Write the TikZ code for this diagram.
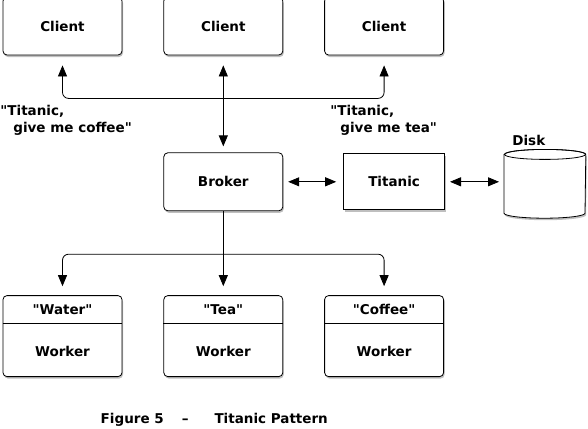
\documentclass[tikz,border=0pt]{standalone}
\usepackage{fontspec}
\setmainfont{DejaVu Sans}[Ligatures=TeXOff]
\usepackage{tikz}
\usetikzlibrary{positioning}
\usetikzlibrary{shadows}
\usetikzlibrary{arrows.meta}

\tikzset{
  diagram text/.style={font=\fontsize{13.5}{17}\selectfont\bfseries},
  shade box/.style={drop shadow={shadow xshift=1pt, shadow yshift=-2pt, fill=black, opacity=.25}},
  box/.style={diagram text, draw, fill=white, rounded corners=4pt, minimum width=119pt, minimum height=58pt, shade box},
  plain box/.style={diagram text, draw, fill=white, minimum width=101pt, minimum height=56pt, shade box},
  worker/.style={draw, fill=white, rounded corners=4pt, minimum width=119pt, minimum height=81pt, shade box},
  note/.style={diagram text, align=left, inner sep=0pt}
}

\begin{document}
\begin{tikzpicture}[x=1pt, y=-1pt, line width=0.8pt, >={Triangle[length=11pt,width=9pt]}]
            \useasboundingbox (0,0) rectangle (588,428);
            % clients
            \node[box] (client1) at (62.5,26) {Client};
            \node[box, right=41pt of client1] (client2) {Client};
            \node[box, right=41pt of client2] (client3) {Client};
            % broker, titanic and disk
            \node[box, below=97pt of client2] (broker) {Broker};
            \node[plain box, right=60pt of broker] (titanic) {Titanic};
            \node[minimum width=81pt, minimum height=68pt, inner sep=0pt, right=59pt of titanic, yshift=-2pt] (disk) {};
            \draw[fill=white, shade box] ([yshift=-5pt]disk.north west) -- ([yshift=5pt]disk.south west)
                arc[start angle=180, end angle=360, x radius=40.5pt, y radius=5pt]
                -- ([yshift=-5pt]disk.north east)
                arc[start angle=0, end angle=180, x radius=40.5pt, y radius=5pt] -- cycle;
            \draw ([yshift=-5pt]disk.north) ellipse [x radius=40.5pt, y radius=5pt];
            \node[diagram text, anchor=south west, inner sep=1pt] (disk label) at ([xshift=7pt, yshift=2pt]disk.north west) {Disk};
            % workers
            \node[worker, below=84pt of broker] (tea) {};
            \node[worker, left=41pt of tea] (water) {};
            \node[worker, right=41pt of tea] (coffee) {};
            \foreach \w/\name in {water/"Water", tea/"Tea", coffee/"Coffee"} {
                \draw ([yshift=-28pt]\w.north west) -- ([yshift=-28pt]\w.north east);
                \node[diagram text] (\w name) at ([yshift=-14pt]\w.north) {\name};
                \node[diagram text] (\w role) at ([yshift=-56pt]\w.north) {Worker};
            }
            % requests
            \node[note, anchor=north west] (coffee note) at (0,105) {"Titanic,\\\hspace{13pt}give me coffee"};
            \node[note, anchor=north west] (tea note) at (330,105) {"Titanic,\\\hspace{10pt}give me tea"};
            % connectors
            \coordinate[below=43pt of client2] (upper bus);
            \coordinate[below=43pt of broker] (lower bus);
            \draw[<->, shorten <=10pt, shorten >=6pt] (client2) -- (broker);
            \draw[->, rounded corners=6pt, shorten >=10pt] (upper bus) -| (client1);
            \draw[->, rounded corners=6pt, shorten >=10pt] (upper bus) -| (client3);
            \draw[<->, shorten <=5pt, shorten >=7pt] (broker) -- (titanic);
            \draw[<->, shorten <=5pt, shorten >=5pt] (titanic.east) -- (titanic.east -| disk.west);
            \draw (broker) -- (lower bus);
            \draw[->, rounded corners=6pt, shorten >=9pt] (lower bus) -| (water);
            \draw[->, shorten >=9pt] (lower bus) -- (tea);
            \draw[->, rounded corners=6pt, shorten >=9pt] (lower bus) -| (coffee);
            % caption
            \node[diagram text, anchor=west] (caption) at (97,420) {Figure 5\hspace{18pt}\textendash\hspace{26pt}Titanic Pattern};
\end{tikzpicture}
\end{document}
